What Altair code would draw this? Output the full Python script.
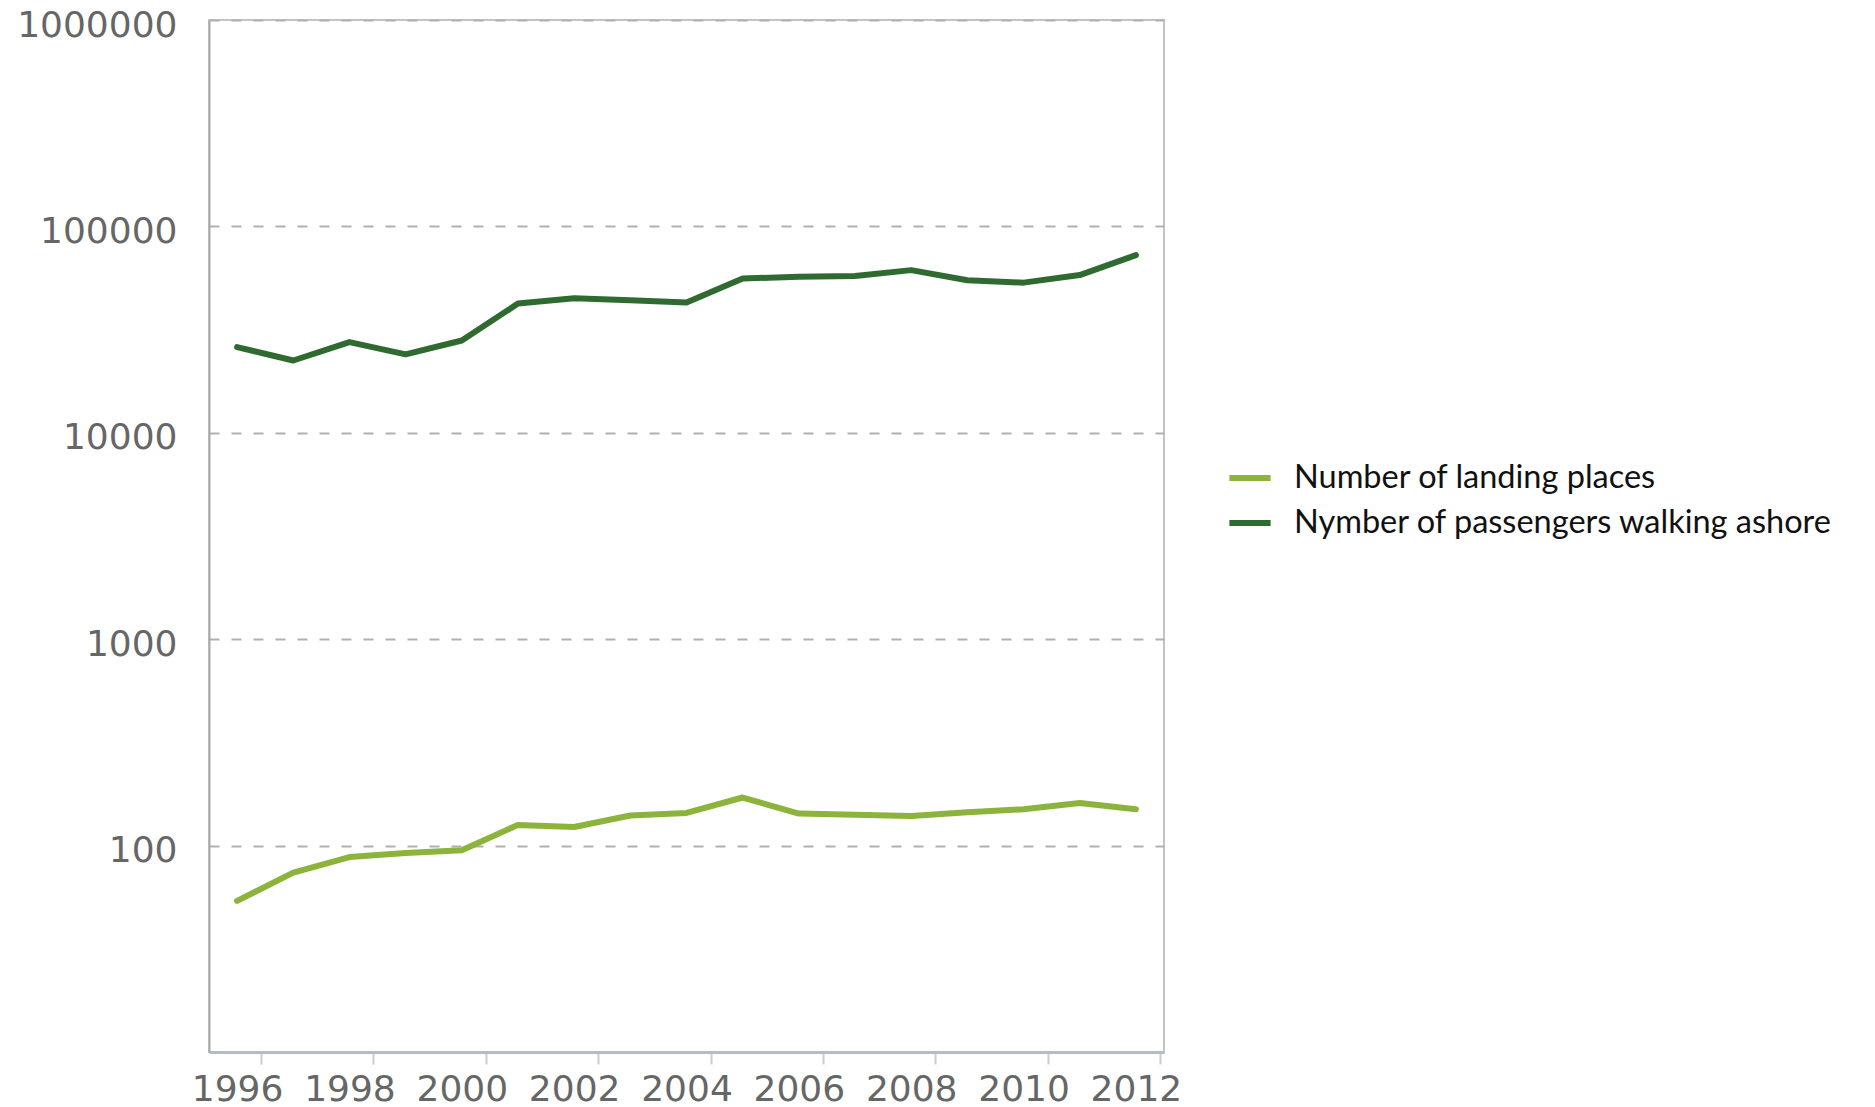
import altair as alt
import pandas as pd

# Yearly series
years = list(range(1996, 2013))
landing_places = [54, 74, 88, 92, 95, 126, 123, 140, 144, 171, 143, 141, 139, 145, 150, 161, 150]
passengers_ashore = [26000, 22400, 27500, 24000, 28000, 42300, 44900, 43900, 42800,
                     55900, 57100, 57500, 61400, 54800, 53400, 58100, 72600]

series_names = ["Number of landing places", "Nymber of passengers walking ashore"]
series_colors = ["#8cb43c", "#2f6b30"]

x_ticks = list(range(1996, 2013, 2))
y_ticks = [100, 1000, 10000, 100000, 1000000]

df = pd.concat([
    pd.DataFrame({"year": years, "value": landing_places, "series": series_names[0]}),
    pd.DataFrame({"year": years, "value": passengers_ashore, "series": series_names[1]}),
])

chart = alt.Chart(df).mark_line(
    strokeWidth=6, strokeJoin="round", strokeCap="round"
).encode(
    x=alt.X(
        "year:Q",
        scale=alt.Scale(domain=[1995.5, 2012.5], nice=False, zero=False),
        axis=alt.Axis(
            values=x_ticks, format="d", title=None, grid=False,
            labelFont="DejaVu Sans", labelFontSize=36, labelColor="#666666",
            labelPadding=8, labelFlush=False, labelOverlap=False,
            tickOffset=24, labelOffset=-24, tickSize=12, tickColor="#cccccc", tickWidth=2,
            domainColor="#b4bcc4", domainWidth=3,
        ),
    ),
    y=alt.Y(
        "value:Q",
        scale=alt.Scale(type="log", domain=[10, 1000000], nice=False),
        axis=alt.Axis(
            values=y_ticks, format="d", title=None,
            grid=True, gridColor="#b0b0b0", gridWidth=2, gridDash=[10, 12],
            ticks=False, labelFont="DejaVu Sans", labelFontSize=36, labelColor="#666666",
            labelPadding=32, labelFlush=False, labelOverlap=False, labelOffset=5,
            domainColor="#aaaaaa", domainWidth=2,
        ),
    ),
    color=alt.Color(
        "series:N",
        scale=alt.Scale(domain=series_names, range=series_colors),
        legend=alt.Legend(
            title=None, orient="none", legendX=1017, legendY=434,
            symbolType="stroke", symbolSize=1700, symbolStrokeWidth=6,
            labelFont="Lato", labelFontSize=32.5, labelColor="#111111",
            labelOffset=20, rowPadding=4, labelLimit=800,
        ),
    ),
).properties(
    width=955,
    height=1032,
    autosize=alt.AutoSizeParams(type="none"),
    padding={"left": 209, "top": 20, "right": 711, "bottom": 55},
).configure_view(
    stroke="#c4c4c4", strokeWidth=2
)

chart.save("out.html", embed_options={"renderer": "svg", "actions": False})
